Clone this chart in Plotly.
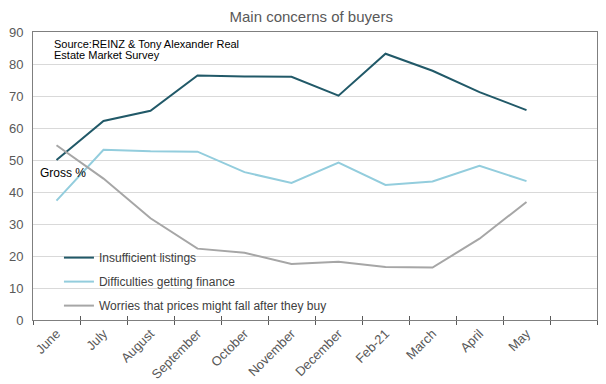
import plotly.graph_objects as go

months = ["June", "July", "August", "September", "October", "November",
          "December", "Feb-21", "March", "April", "May"]
insufficient = [50.0, 62.2, 65.4, 76.4, 76.1, 76.0, 70.1, 83.2, 77.9, 71.2, 65.6]
finance = [37.3, 53.2, 52.7, 52.6, 46.2, 42.8, 49.2, 42.2, 43.3, 48.2, 43.4]
worries = [54.6, 44.2, 31.8, 22.3, 21.0, 17.5, 18.2, 16.6, 16.4, 25.4, 36.9]

series_names = ["Insufficient listings", "Difficulties getting finance",
                "Worries that prices might fall after they buy"]
colors = ["#215968", "#93CDDD", "#A6A6A6"]
ytick_vals = list(range(0, 100, 10))

xpos = list(range(len(months)))
n_slots = len(months) + 1  # one empty slot on the right

fig = go.Figure()
for i, (name, vals) in enumerate(zip(series_names, [insufficient, finance, worries])):
    fig.add_trace(go.Scatter(
        x=xpos, y=vals, mode="lines", name=name,
        line=dict(color=colors[i], width=2),
        legendgroup=f"g{i}",
    ))

# dummy traces to host tick-mark axes
fig.add_trace(go.Scatter(x=[None], y=[None], xaxis="x2", showlegend=False, hoverinfo="skip"))
fig.add_trace(go.Scatter(x=[None], y=[None], xaxis="x3", showlegend=False, hoverinfo="skip"))

font_fam = "Liberation Sans, Arial, sans-serif"
xr = [-0.5, n_slots - 0.5]
boundaries = [b - 0.5 for b in range(n_slots + 1)]

# page has an 8px body margin, so the figure is sized/offset to compensate
fig.update_layout(
    width=598, height=376,
    margin=dict(l=25, r=9, t=24, b=64, autoexpand=False),
    paper_bgcolor="white", plot_bgcolor="white",
    font=dict(family=font_fam, color="#595959"),
    title=dict(text="Main concerns of buyers", x=0.507, xanchor="center",
               y=0.99, yanchor="top",
               font=dict(size=15, color="#595959", family=font_fam)),
    xaxis=dict(range=xr, tickvals=xpos, ticktext=months, tickangle=-45,
               ticks="", showgrid=False, zeroline=False, automargin=False,
               showline=True, linecolor="#7f7f7f", linewidth=1, mirror=True,
               tickfont=dict(size=13, color="#595959")),
    xaxis2=dict(range=xr, overlaying="x", tickvals=boundaries, ticks="outside",
                ticklen=4, tickcolor="#595959", showticklabels=False, automargin=False,
                showgrid=False, zeroline=False, showline=False),
    xaxis3=dict(range=xr, overlaying="x", tickvals=boundaries, ticks="inside",
                ticklen=4, tickcolor="#595959", showticklabels=False, automargin=False,
                showgrid=False, zeroline=False, showline=False, side="bottom"),
    yaxis=dict(range=[0, 90], tickvals=ytick_vals, showgrid=True, automargin=False,
               gridcolor="#d9d9d9", gridwidth=1, zeroline=False,
               showline=True, linecolor="#7f7f7f", linewidth=1, mirror=True,
               ticks="", ticklabelstandoff=6,
               tickfont=dict(size=13, color="#595959")),
    legend=dict(x=0.046, y=0.267, xanchor="left", yanchor="top",
                bgcolor="rgba(0,0,0,0)", font=dict(size=12, color="#404040"),
                tracegroupgap=5, itemwidth=30),
    showlegend=True,
)

src_lines = ["Source:REINZ & Tony Alexander Real", "Estate Market Survey"]
for k, line in enumerate(src_lines):
    fig.add_annotation(text=line, xref="paper", yref="paper",
                       x=0.034, y=(288 - 12 - 11 * k) / 288,
                       xanchor="left", yanchor="middle", align="left", showarrow=False,
                       font=dict(size=11, color="#000000", family=font_fam))
fig.add_annotation(text="Gross %", xref="paper", yref="paper",
                   x=0.009, y=(320 - 173) / 288, xanchor="left", yanchor="middle",
                   showarrow=False, font=dict(size=12, color="#000000", family=font_fam))

fig.write_html("out.html")
